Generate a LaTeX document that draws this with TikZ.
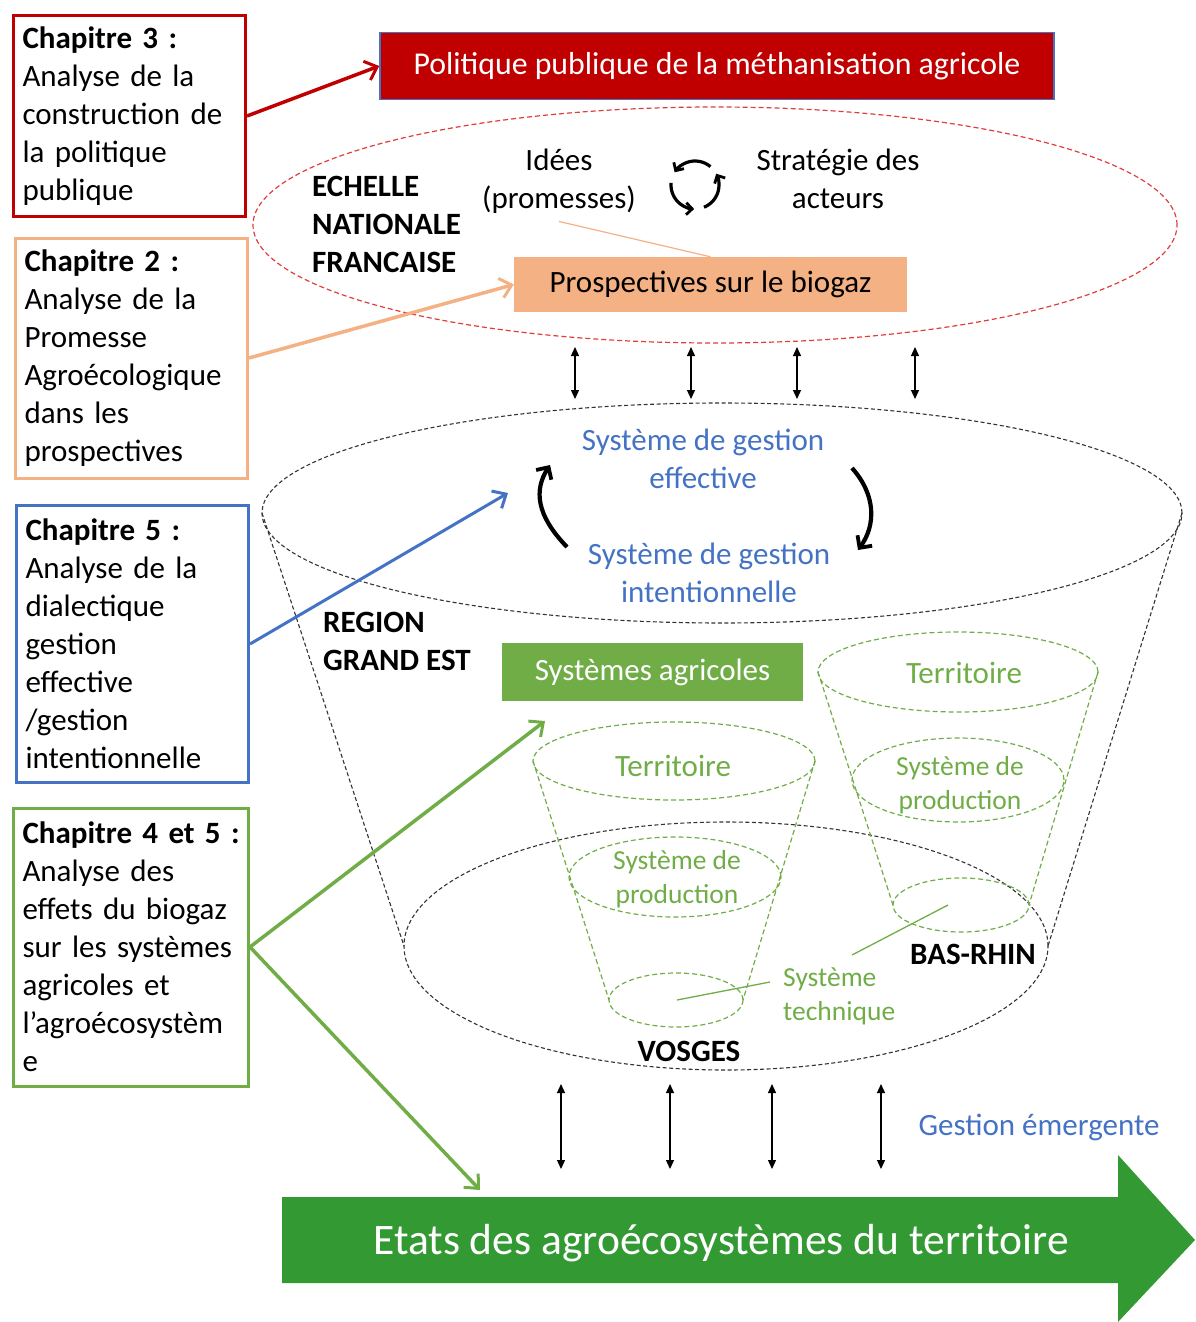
\documentclass[tikz,border=0pt]{standalone}
\usepackage{fontspec}
\setmainfont{Carlito}
\usetikzlibrary{arrows.meta}
\definecolor{cred}{HTML}{C00000}
\definecolor{corange}{RGB}{244,177,131}
\definecolor{cblue}{HTML}{4472C4}
\definecolor{cgreen}{HTML}{70AD47}
\definecolor{cdgreen}{RGB}{51,153,51}
\definecolor{credd}{RGB}{225,60,60}
\tikzset{
  chapbox/.style={draw, line width=3pt, fill=white, text width=214pt, inner xsep=9pt, inner ysep=0pt, align=left, anchor=west, font=\fontsize{31}{38}\selectfont},
  fillbox/.style={inner sep=0pt, font=\fontsize{31}{38}\selectfont},
  lbl/.style={inner sep=0pt, align=center, font=\fontsize{31}{38}\selectfont},
  smlbl/.style={inner sep=0pt, align=center, font=\fontsize{27.5}{34}\selectfont},
  chaparrow/.style={line width=3.5pt, -{Straight Barb[length=11pt,width=20pt,line width=3pt]}},
  dbl/.style={line width=1.3pt, {Triangle[length=9pt,width=8pt]}-{Triangle[length=9pt,width=8pt]}},
  blackdash/.style={line width=1.1pt, dash pattern=on 4pt off 2.5pt, black!80},
  greendash/.style={line width=1.2pt, dash pattern=on 5pt off 3pt, cgreen},
  reddash/.style={line width=1.2pt, dash pattern=on 5pt off 3pt, credd},
  cyc/.style={line width=3.2pt, -{Straight Barb[length=6pt,width=12pt,line width=2.8pt]}},
  curv/.style={line width=4.2pt, -{Straight Barb[length=9pt,width=18pt,line width=3.8pt]}},
}
\begin{document}
\begin{tikzpicture}[x=1pt,y=-1pt]
\path[use as bounding box] (0,0) rectangle (1195,1322);

% ---- ellipses / funnels
\draw[reddash] (715,225) ellipse [x radius=462pt, y radius=118pt];
\draw[blackdash] (722,513) ellipse [x radius=460pt, y radius=110pt];
\draw[blackdash] (262,513) -- (404,946);
\draw[blackdash] (1182,513) -- (1048,946);
\draw[blackdash] (726,946) ellipse [x radius=322pt, y radius=124pt];

% left green funnel (Vosges)
\draw[greendash] (674,761) ellipse [x radius=141pt, y radius=39pt];
\draw[greendash] (533,761) -- (609,1000);
\draw[greendash] (815,761) -- (743,1000);
\draw[greendash] (675,877) ellipse [x radius=106pt, y radius=40pt];
\draw[greendash] (676,1000) ellipse [x radius=67pt, y radius=27pt];
% right green funnel (Bas-Rhin)
\draw[greendash] (958,672) ellipse [x radius=140pt, y radius=40pt];
\draw[greendash] (818,672) -- (893,905);
\draw[greendash] (1098,672) -- (1029,905);
\draw[greendash] (958,780) ellipse [x radius=106pt, y radius=42pt];
\draw[greendash] (961,905) ellipse [x radius=68pt, y radius=27pt];

% ---- chapter boxes
\node[chapbox, draw=cred, minimum height=201pt] (ch3) at (12,116)
  {\textbf{Chapitre 3 :}\\Analyse de la\\construction de\\la politique\\publique};
\node[chapbox, draw=corange, minimum height=240pt] (ch2) at (14,358)
  {\textbf{Chapitre 2 :}\\Analyse de la\\Promesse\\Agroécologique\\dans les\\prospectives};
\node[chapbox, draw=cblue, minimum height=277pt] (ch5) at (15,644)
  {\textbf{Chapitre 5 :}\\Analyse de la\\dialectique\\gestion\\effective\\/gestion\\intentionnelle};
\node[chapbox, draw=cgreen, minimum height=278pt, text width=217pt] (ch4) at (12,947)
  {\textbf{Chapitre~4~et~5~:}\\Analyse des\\effets du biogaz\\sur les systèmes\\agricoles et\\l’agroécosystèm\\e};

% ---- filled boxes
\node[fillbox, fill=cred, draw=cblue, line width=1.5pt, text=white, minimum width=674pt, minimum height=67pt, font=\fontsize{31.8}{38}\selectfont] (pol) at (717,66)
  {Politique publique de la méthanisation agricole};
\node[fillbox, fill=corange, minimum width=393pt, minimum height=55pt] (prosp) at (710.5,284.5)
  {Prospectives sur le biogaz};
\node[fillbox, fill=cgreen, text=white, minimum width=301pt, minimum height=58pt] (agri) at (652.5,672)
  {Systèmes agricoles};

% ---- texts
\node[lbl, align=left, anchor=west, font=\fontsize{31}{38}\selectfont\bfseries] (echelle) at (312,224)
  {ECHELLE\\NATIONALE\\FRANCAISE};
\node[lbl] (idees) at (559,181) {Idées\\(promesses)};
\node[lbl] (strat) at (838,179) {Stratégie des\\acteurs};
\node[lbl, text=cblue] (eff) at (703,459) {Système de gestion\\effective};
\node[lbl, text=cblue] (int) at (709,573) {Système de gestion\\intentionnelle};
\node[lbl, align=left, anchor=west, font=\fontsize{31}{38}\selectfont\bfseries] (region) at (323,641)
  {REGION\\GRAND EST};
\node[lbl, text=cgreen] (terr1) at (673,766) {Territoire};
\node[smlbl, text=cgreen] (prod1) at (677,879) {Système de\\production};
\node[lbl, text=cgreen] (terr2) at (964,673) {Territoire};
\node[smlbl, text=cgreen] (prod2) at (960,785) {Système de\\production};
\node[smlbl, align=left, anchor=west, text=cgreen] (tech) at (783,996) {Système\\technique};
\node[lbl, font=\fontsize{31}{38}\selectfont\bfseries] (basrhin) at (973,954) {BAS-RHIN};
\node[lbl, font=\fontsize{31}{38}\selectfont\bfseries] (vosges) at (689,1051) {VOSGES};
\node[lbl, text=cblue] (emerg) at (1039,1127) {Gestion émergente};

% ---- big green arrow
\fill[cdgreen] (282,1197) -- (1118,1197) -- (1118,1155) -- (1195,1240) -- (1118,1322) -- (1118,1283) -- (282,1283) -- cycle;
\node[inner sep=0pt, text=white, font=\fontsize{43.5}{50}\selectfont] (etats) at (721,1243)
  {Etats des agroécosystèmes du territoire};

% ---- coordinates
\coordinate (tipblue) at (508,493);
\coordinate (tipagri) at (545,721);
\coordinate (tipetats) at (480,1190);
\coordinate (vsys) at (677,1000);
\coordinate (vlead) at (770,982);
\coordinate (bsys) at (948,905);
\coordinate (blead) at (852,955);

% ---- chapter arrows
\draw[chaparrow, cred] (ch3.east) -- (pol.west);
\draw[chaparrow, corange] (ch2.east) -- (prosp.west);
\draw[chaparrow, cblue, line width=3pt] (ch5.east) -- (tipblue);
\draw[chaparrow, cgreen] (ch4.east) -- (tipagri);
\draw[chaparrow, cgreen] (ch4.east) -- (tipetats);

% ---- thin lines
\draw[corange, line width=1.2pt] ([yshift=-8pt]idees.south) -- (prosp.north);
\draw[cgreen, line width=1.3pt] (vsys) -- (vlead);
\draw[cgreen, line width=1.3pt] (blead) -- (bsys);

% ---- double arrows
\foreach \i/\x in {1/575,2/691,3/797,4/915} {
  \coordinate (ua\i) at (\x,347);
  \coordinate (ub\i) at (\x,399);
  \draw[dbl] (ua\i) -- (ub\i);
}
\foreach \i/\x in {1/561,2/670,3/772,4/881} {
  \coordinate (la\i) at (\x,1084);
  \coordinate (lb\i) at (\x,1169);
  \draw[dbl] (la\i) -- (lb\i);
}

% ---- cycle icon
\coordinate (cyc) at (695,185);
\draw[cyc] (cyc) ++(50:24pt) arc[start angle=50, end angle=148, radius=24pt];
\draw[cyc] (cyc) ++(175:24pt) arc[start angle=175, end angle=268, radius=24pt];
\draw[cyc] (cyc) ++(292:24pt) arc[start angle=292, end angle=388, radius=24pt];

% ---- gestion cycle arrows
\coordinate (la) at (567,547);
\coordinate (lt) at (550,465);
\coordinate (ra) at (852,468);
\coordinate (rt) at (858,550);
\draw[curv] (la) .. controls (536,515) and (534,490) .. (lt);
\draw[curv] (ra) .. controls (876,495) and (876,525) .. (rt);
\end{tikzpicture}
\end{document}
